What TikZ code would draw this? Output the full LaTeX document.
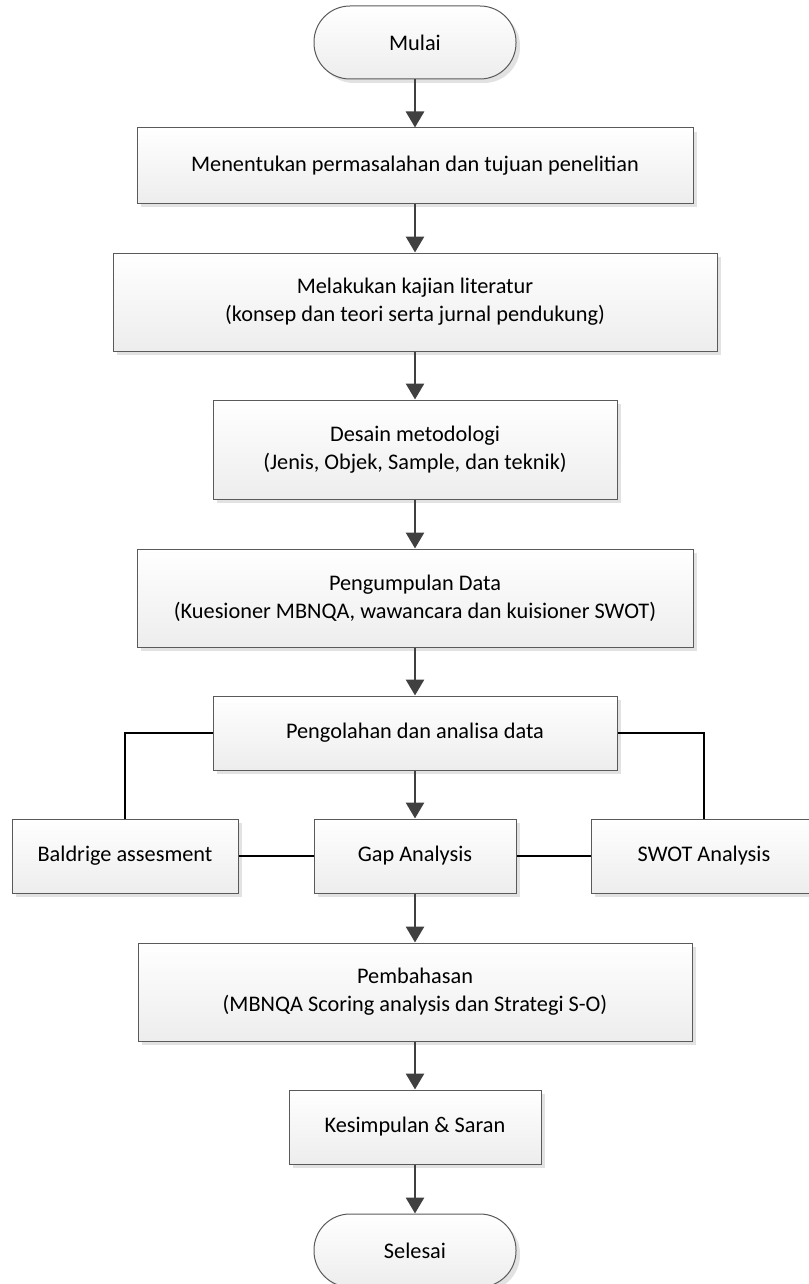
\documentclass[tikz,border=0pt]{standalone}
\usepackage{fontspec}
\setmainfont{Carlito}
\usetikzlibrary{shadows,arrows.meta}
\definecolor{edge}{HTML}{5A5A5A}
\definecolor{arrowc}{HTML}{404040}
\definecolor{fillbot}{HTML}{EDEDED}
\definecolor{shadowc}{HTML}{E2E2E2}
\tikzset{
  procbox/.style={draw=edge, line width=1pt, top color=white, bottom color=fillbot,
    drop shadow={shadow xshift=4pt, shadow yshift=-4pt, fill=shadowc, opacity=1},
    align=center, inner sep=0pt, font=\fontsize{22.3}{28}\selectfont},
  termbox/.style={procbox, rounded corners=36pt},
  flow/.style={draw=arrowc, line width=2.8pt, -{Triangle[length=16pt,width=18pt]}},
  link/.style={draw=black, line width=1.6pt}
}
\begin{document}
\begin{tikzpicture}[x=1pt,y=-1pt]
\useasboundingbox (0,0) rectangle (808,1284);
\node[termbox, minimum width=202pt, minimum height=73pt] (start) at (415,42.5) {Mulai};
\node[procbox, minimum width=556pt, minimum height=75pt] (b1) at (415,165.5) {Menentukan permasalahan dan tujuan penelitian};
\node[procbox, minimum width=604pt, minimum height=98pt] (b2) at (415,302) {Melakukan kajian literatur\\(konsep dan teori serta jurnal pendukung)};
\node[procbox, minimum width=404pt, minimum height=99pt] (b3) at (415,449.5) {Desain metodologi\\(Jenis, Objek, Sample, dan teknik)};
\node[procbox, minimum width=556pt, minimum height=98pt] (b4) at (415,598) {Pengumpulan Data\\(Kuesioner MBNQA, wawancara dan kuisioner SWOT)};
\node[procbox, minimum width=404pt, minimum height=74pt] (b5) at (415,733) {Pengolahan dan analisa data};
\node[procbox, minimum width=226pt, minimum height=74pt] (bald) at (125,856) {Baldrige assesment};
\node[procbox, minimum width=202pt, minimum height=74pt] (gap) at (415,856) {Gap Analysis};
\node[procbox, minimum width=226pt, minimum height=74pt] (swot) at (704,856) {SWOT Analysis};
\node[procbox, minimum width=554pt, minimum height=98pt] (pem) at (415,992) {Pembahasan\\(MBNQA Scoring analysis dan Strategi S-O)};
\node[procbox, minimum width=252pt, minimum height=74pt] (kes) at (415,1127) {Kesimpulan \& Saran};
\node[termbox, minimum width=202pt, minimum height=73pt] (end) at (415,1250.5) {Selesai};

\draw[flow] (start) -- (b1);
\draw[flow] (b1) -- (b2);
\draw[flow] (b2) -- (b3);
\draw[flow] (b3) -- (b4);
\draw[flow] (b4) -- (b5);
\draw[flow] (b5) -- (gap);
\draw[flow] (gap) -- (pem);
\draw[flow] (pem) -- (kes);
\draw[flow] (kes) -- (end);

\draw[link] (b5.west) -| (bald.north);
\draw[link] (b5.east) -| (swot.north);
\draw[link] (bald.east) -- (gap.west);
\draw[link] (gap.east) -- (swot.west);
\end{tikzpicture}
\end{document}
